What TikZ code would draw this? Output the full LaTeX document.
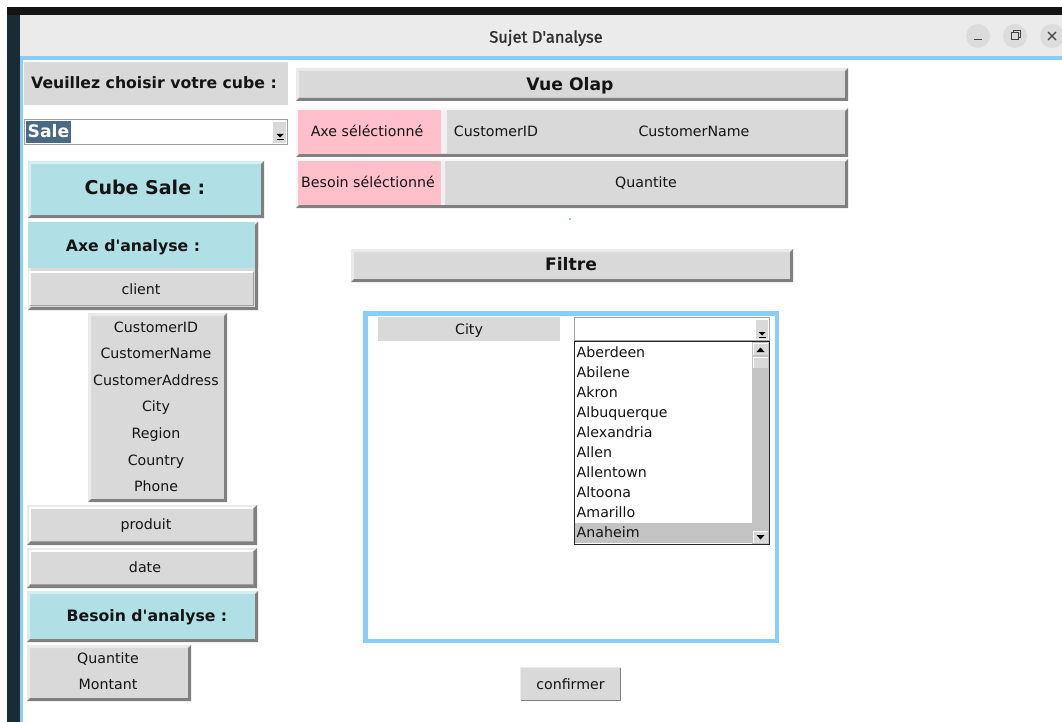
\documentclass[tikz,border=0pt]{standalone}
\usepackage{fontspec}
\setmainfont{DejaVu Sans}[Ligatures=TeXOff]
\newfontfamily\titlefont{Fira Sans}[Ligatures=TeXOff, FakeBold=1.3]

\definecolor{tkgrey}{HTML}{D9D9D9}
\definecolor{powder}{HTML}{B0E0E6}
\definecolor{rosepink}{HTML}{FFC0CB}
\definecolor{shadowc}{HTML}{808080}
\definecolor{skyc}{HTML}{87CEFA}
\definecolor{titlebg}{HTML}{EBEBEB}
\definecolor{selblue}{HTML}{4A6984}
\definecolor{listsel}{HTML}{C3C3C3}
\definecolor{desk}{HTML}{1B2B33}
\definecolor{txtc}{HTML}{141414}
\definecolor{btnedge}{HTML}{A0A0A0}
\definecolor{circc}{HTML}{DCDCDC}

% raised Tk widget: flat fill, light top/left edge, dark bottom/right edge
\newcommand\raisedbox[5]{%
  \fill[#5] (#1,#2) rectangle (#3,#4);
  \fill[#5!55!white] (#1,#2) -- (#3,#2) -- (#3-3,#2+3) -- (#1+3,#2+3) -- (#1+3,#4-3) -- (#1,#4) -- cycle;
  \fill[shadowc] (#3,#2) -- (#3,#4) -- (#1,#4) -- (#1+3,#4-3) -- (#3-3,#4-3) -- (#3-3,#2+3) -- cycle;
}
% inner push button inside a raised frame
\newcommand\innerbutton[4]{%
  \fill[tkgrey] (#1,#2) rectangle (#3,#4);
  \draw[white, line width=1.4pt] (#1,#4) -- (#1,#2) -- (#3,#2);
  \draw[btnedge, line width=1pt] (#3,#2) -- (#3,#4) -- (#1,#4);
}

\tikzset{
  txt/.style={inner sep=0pt, text height=0.73em, text depth=0pt, text=txtc, yshift=-2pt,
    font=\fontsize{14.2}{17}\selectfont},
  boldtxt/.style={txt, font=\fontsize{15.7}{19}\selectfont\bfseries},
  bigtxt/.style={txt, font=\fontsize{17.2}{20}\selectfont\bfseries},
  hugetxt/.style={txt, font=\fontsize{19}{23}\selectfont\bfseries},
  item/.style={txt, anchor=west},
  winbtn/.style={circle, fill=circc, minimum size=24pt, inner sep=0pt},
}

\begin{document}
\begin{tikzpicture}[x=1pt, y=-1pt]
\useasboundingbox (0,0) rectangle (1062,722);
\fill[white] (0,0) rectangle (1062,722);

% desktop strips and window frame
\fill[black!92] (7,7) rectangle (1062,15);
\fill[desk] (7,15) rectangle (20,722);
\fill[titlebg] (20,15) rectangle (1062,56);
\fill[skyc] (20,56) rectangle (1062,60);
\fill[skyc] (20,56) rectangle (23,722);

% title bar
\node[txt, font=\titlefont\fontsize{16.5}{19}\selectfont, text=black!82] (title) at (546,37) {Sujet D'analyse};
\node[winbtn] (bmin) at (978,36) {};
\node[winbtn] (bmax) at (1015,36) {};
\node[winbtn] (bclose) at (1052,36) {};
\draw[black!75, line width=1.2pt] (974,39.5) -- (982,39.5);
\draw[black!75, line width=1pt] (1011,33) rectangle (1018,40);
\draw[black!75, line width=1pt] (1013.5,33) -- (1013.5,30.5) -- (1020.5,30.5) -- (1020.5,37.5) -- (1018,37.5);
\draw[black!75, line width=1.3pt] (1048,32) -- (1056,40) (1048,40) -- (1056,32);

% ---------- left column ----------
\fill[tkgrey] (24,62) rectangle (288,105);
\node[boldtxt] (choose) at (154,83) {Veuillez choisir votre cube :};

% cube selector
\fill[white] (24,119) rectangle (288,145);
\draw[btnedge, line width=0.8pt] (24.5,119.5) rectangle (287.5,144.5);
\fill[selblue] (26,121) rectangle (71,143);
\node[bigtxt, text=white] (sale) at (48.5,131.5) {Sale};
\fill[tkgrey] (272,121) rectangle (286,143);
\draw[white, line width=0.8pt] (272,143) -- (272,121) -- (286,121);
\fill[black] (276.5,134) -- (283.5,134) -- (280,137.5) -- cycle;
\draw[black, line width=0.8pt] (276.5,139.5) -- (283.5,139.5);

% cube title
\raisedbox{28}{161}{264}{218}{powder}
\node[hugetxt] (cube) at (145,188.5) {Cube Sale :};

% analysis axes frame
\raisedbox{28}{222}{258}{310}{tkgrey}
\fill[powder] (28,222) rectangle (255,268);
\fill[shadowc] (258,222) -- (258,268) -- (255,268) -- (255,225) -- cycle;
\node[boldtxt] (axes) at (133,246) {Axe d'analyse :};
\innerbutton{30}{272}{253}{305}
\node[txt] (client) at (141,289) {client};

% client attributes
\raisedbox{88}{313}{227}{502}{tkgrey}
\foreach \t [count=\i from 0] in {CustomerID,CustomerName,CustomerAddress,City,Region,Country,Phone}
  \node[txt] (attr\i) at (156,{326.5+26.6*\i}) {\t};

% other dimensions
\raisedbox{27}{505}{257}{545}{tkgrey}
\innerbutton{30}{508}{253}{541}
\node[txt] (produit) at (146,524) {produit};
\raisedbox{27}{548}{257}{588}{tkgrey}
\innerbutton{30}{551}{253}{584}
\node[txt] (date) at (145,567) {date};

% analysis measures
\raisedbox{27}{591}{258}{642}{powder}
\node[boldtxt] (needs) at (147,616) {Besoin d'analyse :};
\raisedbox{27}{645}{191}{701}{tkgrey}
\node[txt] (qte) at (108,658) {Quantite};
\node[txt] (mnt) at (108,684) {Montant};

% ---------- OLAP view ----------
\raisedbox{296}{68}{848}{101}{tkgrey}
\node[bigtxt] (olap) at (570,84.5) {Vue Olap};

\raisedbox{296}{108}{848}{157}{white!94!black}
\fill[rosepink] (298,110) rectangle (441,154);
\fill[tkgrey] (447,110) rectangle (845,154);
\node[txt] (axsel) at (367,131) {Axe séléctionné};
\node[txt] (cid) at (496,131) {CustomerID};
\node[txt] (cname) at (694,131) {CustomerName};

\raisedbox{296}{159}{848}{208}{white!94!black}
\fill[rosepink] (298,161) rectangle (441,205);
\fill[tkgrey] (445,161) rectangle (845,205);
\node[txt] (bsel) at (368,182) {Besoin séléctionné};
\node[txt] (qsel) at (646,182) {Quantite};

\fill[skyc] (569,218) rectangle (571,220);

% ---------- filter ----------
\raisedbox{351}{249}{793}{282}{tkgrey}
\node[bigtxt] (filtre) at (571,265) {Filtre};

\draw[skyc, line width=4.5pt] (365.5,313.5) rectangle (777,641);
\fill[tkgrey] (378,317) rectangle (560,341);
\node[txt] (city) at (469,329) {City};

% city combobox
\fill[white] (574,317) rectangle (770,341);
\draw[btnedge, line width=0.8pt] (574.5,317.5) rectangle (769.5,340.5);
\fill[tkgrey] (755,319) rectangle (768,339);
\draw[white, line width=0.8pt] (755,339) -- (755,319) -- (768,319);
\fill[black] (758.5,332) -- (765.5,332) -- (762,335.5) -- cycle;
\draw[black, line width=0.8pt] (758.5,337) -- (765.5,337);

% drop-down list
\fill[white] (574,341) rectangle (770,545);
\fill[listsel] (575,522.5) rectangle (752,542.5);
\foreach \t [count=\i from 0] in {Aberdeen,Abilene,Akron,Albuquerque,Alexandria,Allen,Allentown,Altoona,Amarillo,Anaheim}
  \node[item] (city\i) at (576.5,{352+20*\i}) {\t};
\fill[listsel] (752,342) rectangle (769,544);
\fill[tkgrey] (753,343) rectangle (768,355);
\draw[white, line width=0.7pt] (753,355) -- (753,343) -- (768,343);
\fill[black] (756.5,352) -- (764.5,352) -- (760.5,347.5) -- cycle;
\fill[tkgrey] (753,357) rectangle (768,368);
\draw[white, line width=0.7pt] (753,368) -- (753,357) -- (768,357);
\fill[tkgrey] (753,531) rectangle (768,543);
\draw[white, line width=0.7pt] (753,543) -- (753,531) -- (768,531);
\fill[black] (756.5,535) -- (764.5,535) -- (760.5,539.5) -- cycle;
\draw[black!85, line width=1pt] (574.5,341.5) rectangle (769.5,544.5);

% confirm button
\fill[tkgrey] (520,667) rectangle (621,701);
\draw[white!92!black, line width=1.2pt] (520.5,700.5) -- (520.5,667.5) -- (620.5,667.5);
\draw[shadowc, line width=1pt] (620.5,667.5) -- (620.5,700.5) -- (520.5,700.5);
\node[txt] (ok) at (570.5,683.5) {confirmer};
\end{tikzpicture}
\end{document}
